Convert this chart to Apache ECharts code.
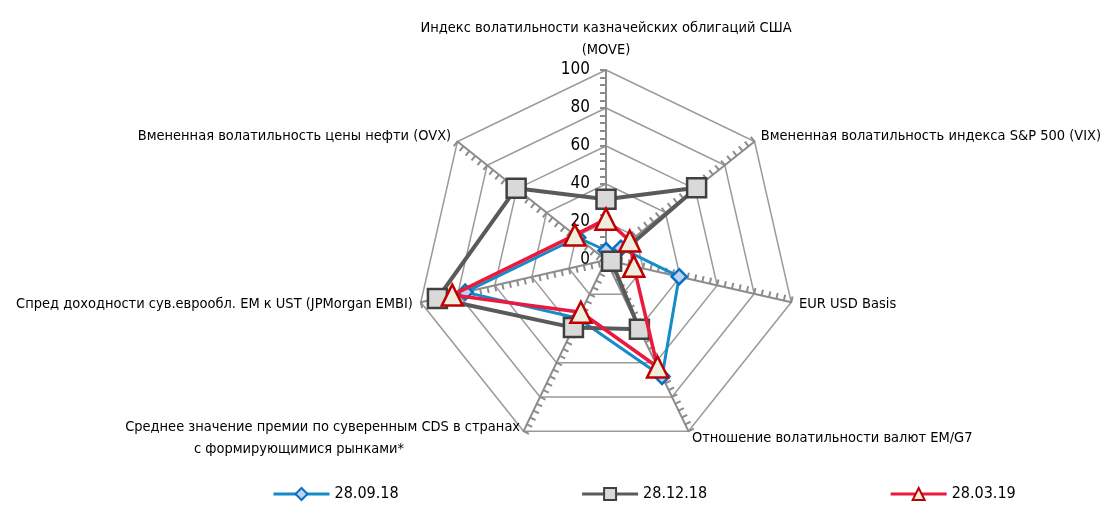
<!DOCTYPE html>
<html><head><meta charset="utf-8">
<script src="https://cdn.jsdelivr.net/npm/echarts@6/dist/echarts.min.js"></script>
<style>html,body{margin:0;padding:0;background:#fff}#c{width:1104px;height:509px}</style>
</head><body><div id="c"></div>
<script>
// Indicators in the original (clockwise, from top) order
const indicatorNames = [
  'Индекс волатильности казначейских облигаций США\n(MOVE)',
  'Вмененная волатильность индекса S&P 500 (VIX)',
  'EUR USD Basis',
  'Отношение волатильности валют EM/G7',
  'Среднее значение премии по суверенным CDS в странах\nс формирующимися рынками*',
  'Спред доходности сув.еврообл. EM к UST (JPMorgan EMBI)',
  'Вмененная волатильность цены нефти (OVX)'
];
const tickLabels = ['0', '20', '40', '60', '80', '100'];
const seriesNames = ['28.09.18', '28.12.18', '28.03.19'];
const values0918 = [5, 10, 39.5, 68, 34, 76, 19];
const values1218 = [32, 61, 3, 40.5, 39.5, 91, 60.5];
const values0319 = [21.5, 16, 15, 62.5, 30.5, 83, 21];

const FONT = '"DejaVu Sans Condensed", "Liberation Sans Narrow", sans-serif';
const NAME_SIZE = 14.5;
// ECharts lays radar indicators counter-clockwise; reorder so the picture runs clockwise
const order = [0, 6, 5, 4, 3, 2, 1];
const reorder = arr => order.map(i => arr[i]);

const CENTER = [606, 260], RADIUS = 190;

const mainRadar = {
  center: CENTER, radius: RADIUS, startAngle: 90, shape: 'polygon', splitNumber: 5,
  indicator: order.map((i, k) => {
    const o = { name: indicatorNames[i], min: 0, max: 100 };
    if (k === 0) o.axisLabel = { show: true };
    return o;
  }),
  axisName: {
    color: '#000', fontFamily: FONT, fontSize: NAME_SIZE, lineHeight: 22,
    formatter: (name) => {
      if (name === indicatorNames[4]) {
        const parts = name.split('\n');
        return '{t|' + parts[0] + '}\n{t|' + parts[1] + '}{p|}';
      }
      return name;
    },
    rich: {
      t: { fontFamily: FONT, fontSize: NAME_SIZE, lineHeight: 22, color: '#000' },
      p: { width: 116, height: 10 }
    }
  },
  nameGap: 8,
  axisLine: { lineStyle: { color: '#8c8c8c', width: 2 } },
  splitLine: { lineStyle: { color: '#9a9a9a', width: 1.5 } },
  splitArea: { show: false },
  axisTick: { show: false },
  axisLabel: {
    show: false, fontFamily: FONT, fontSize: 17, color: '#000', margin: 16,
    formatter: v => tickLabels[Math.round(v / 20)]
  }
};
function tickRadar(inside) {
  return {
    center: CENTER, radius: RADIUS, startAngle: 90, shape: 'polygon', splitNumber: 25,
    indicator: order.map(() => ({ name: '', min: 0, max: 100 })),
    axisName: { show: false },
    axisLine: { show: false }, splitLine: { show: false }, splitArea: { show: false },
    axisLabel: { show: false },
    axisTick: { show: true, length: 6, inside: inside, lineStyle: { color: '#8c8c8c', width: 2 } }
  };
}

const styles = [
  { symbol: 'diamond', size: 15, line: '#138cc8', fill: '#bcd2ee', border: '#0a70c0', width: 3 },
  { symbol: 'rect', size: 19, line: '#5a5a5a', fill: '#d9d9d9', border: '#404040', width: 4 },
  { symbol: 'triangle', size: 21, line: '#ea1a3e', fill: '#eeeedf', border: '#c00000', width: 3.5 }
];
const allValues = [values0918, values1218, values0319];

// Empty line series only provide the line+marker legend icons
const legendSeries = seriesNames.map((n, s) => ({
  name: n, type: 'line', data: [], xAxisIndex: 0, yAxisIndex: 0,
  symbol: styles[s].symbol, symbolSize: 12,
  lineStyle: { color: styles[s].line, width: 3 },
  itemStyle: { color: styles[s].fill, borderColor: styles[s].border, borderWidth: 2 }
}));
const radarSeries = seriesNames.map((n, s) => ({
  name: n, type: 'radar', radarIndex: 0,
  symbol: styles[s].symbol, symbolSize: styles[s].size,
  lineStyle: { color: styles[s].line, width: styles[s].width },
  itemStyle: { color: styles[s].fill, borderColor: styles[s].border, borderWidth: 2.5 },
  data: [{ name: n, value: reorder(allValues[s]) }],
  z: 10 + s
}));

const chart = echarts.init(document.getElementById('c'), null, { renderer: 'canvas' });
chart.setOption({
  animation: false,
  backgroundColor: '#fff',
  grid: { left: 0, top: 0, width: 1, height: 1, show: false },
  xAxis: { show: false, type: 'value' },
  yAxis: { show: false, type: 'value' },
  legend: {
    data: seriesNames, left: 267, bottom: 2, itemGap: 182, itemWidth: 56, itemHeight: 15,
    lineStyle: { width: 3 },
    textStyle: { fontFamily: FONT, fontSize: 16, color: '#000' }
  },
  radar: [mainRadar, tickRadar(false), tickRadar(true)],
  series: legendSeries.concat(radarSeries)
});
</script></body></html>
